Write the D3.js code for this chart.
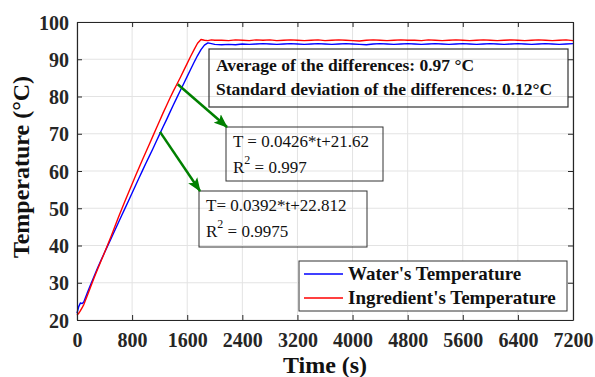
<!DOCTYPE html>
<html>
<head>
<meta charset="utf-8">
<script src="https://cdn.jsdelivr.net/npm/d3@7"></script>
<style>
  body { margin: 0; background: #fff; }
  svg { display: block; }
  text { font-family: "Liberation Serif", "Times New Roman", serif; }
</style>
</head>
<body>
<svg id="chart" width="595" height="377"></svg>
<script>
// Sampling times (s)
const timeS = [
  0, 25, 50, 75,
  100, 150, 200, 250, 300, 350, 400, 450, 500, 550,
  600, 650, 700, 750, 800, 850, 900, 950, 1000, 1050,
  1100, 1150, 1200, 1250, 1300, 1350, 1400, 1450, 1500, 1550,
  1600, 1650, 1700, 1750, 1800, 1850, 1900, 1950, 2000,
  2100, 2200, 2300, 2400, 2500, 2600, 2700, 2800, 2900, 3000,
  3100, 3200, 3300, 3400, 3500, 3600, 3700, 3800, 3900, 4000,
  4100, 4200, 4300, 4400, 4500, 4600, 4700, 4800, 4900, 5000,
  5100, 5200, 5300, 5400, 5500, 5600, 5700, 5800, 5900, 6000,
  6100, 6200, 6300, 6400, 6500, 6600, 6700, 6800, 6900, 7000,
  7100, 7200
];

// Water temperature (°C)
const waterTemp = [
  21.8, 23.6, 24.6, 24.4,
  24.9, 27.3, 29.6, 31.8, 34.0, 36.1, 38.1, 40.1, 42.1, 44.1,
  46.1, 48.1, 50.1, 52.1, 54.1, 56.1, 58.1, 60.1, 62.1, 64.0,
  65.9, 67.9, 69.9, 71.9, 73.8, 75.8, 77.8, 79.7, 81.6, 83.5,
  85.4, 87.3, 89.2, 91.0, 92.6, 93.8, 94.4, 94.2, 94.0,
  93.9, 94.0, 93.9, 94.1, 94.0, 94.1, 94.2, 94.1, 94.0, 94.1,
  94.2, 94.1, 94.0, 94.1, 94.2, 94.1, 94.0, 94.1, 94.2, 94.1,
  94.0, 93.9, 94.1, 94.2, 94.1, 94.0, 94.1, 94.2, 94.1, 94.0,
  94.1, 94.2, 94.1, 94.0, 94.1, 94.2, 94.1, 94.0, 94.1, 94.2,
  94.1, 94.0, 94.1, 94.2, 94.1, 94.0, 94.1, 94.2, 94.1, 94.0,
  94.1, 94.2
];

// Ingredient temperature (°C)
const ingredientTemp = [
  21.3, 21.8, 22.5, 23.3,
  24.2, 26.6, 29.0, 31.4, 33.7, 35.9, 38.1, 40.4, 42.7, 45.1,
  47.5, 49.8, 52.1, 54.3, 56.5, 58.7, 60.9, 63.0, 65.1, 67.2,
  69.3, 71.4, 73.5, 75.6, 77.6, 79.6, 81.5, 83.3, 85.1, 87.0,
  88.9, 90.8, 92.6, 94.3, 95.3, 95.1, 95.0, 95.2, 95.1,
  95.1, 95.0, 95.2, 95.1, 95.0, 95.2, 95.1, 95.2, 95.0, 95.1,
  95.2, 95.1, 95.0, 95.1, 95.2, 95.0, 95.1, 95.2, 95.1, 95.0,
  94.9, 95.1, 95.2, 95.1, 95.0, 95.1, 95.2, 95.1, 95.1, 95.0,
  95.2, 95.1, 95.0, 95.1, 95.2, 95.1, 95.0, 95.1, 95.2, 95.1,
  95.0, 95.1, 95.2, 95.1, 95.0, 95.1, 95.2, 95.1, 95.0, 95.1,
  95.2, 95.0
];

const xTicks = [0, 800, 1600, 2400, 3200, 4000, 4800, 5600, 6400, 7200];
const yTicks = [20, 30, 40, 50, 60, 70, 80, 90, 100];
const seriesNames = ["Water's Temperature", "Ingredient's Temperature"];
const seriesColors = ["#0000ff", "#ff0000"];

const statLines = ["Average of the differences: 0.97 °C", "Standard deviation of the differences: 0.12°C"];
const ingredientFit = { eq: "T = 0.0426*t+21.62", r2: " = 0.997", from: [1462, 83.3] };
const waterFit = { eq: "T= 0.0392*t+22.812", r2: " = 0.9975", from: [1205, 70.5] };

const W = 595, H = 377;
const margin = { top: 22, right: 22, bottom: 57, left: 77 };
const iw = W - margin.left - margin.right;
const ih = H - margin.top - margin.bottom;

const svg = d3.select("#chart");
const g = svg.append("g").attr("transform", `translate(${margin.left},${margin.top})`);

const x = d3.scaleLinear().domain([0, 7200]).range([0, iw]);
const y = d3.scaleLinear().domain([20, 100]).range([ih, 0]);

const axisColor = "#262626";
const gridColor = "#e3e3e3";

// grid
g.append("g").selectAll("line").data(xTicks).join("line")
  .attr("x1", d => x(d)).attr("x2", d => x(d)).attr("y1", 0).attr("y2", ih)
  .attr("stroke", gridColor).attr("stroke-width", 1);
g.append("g").selectAll("line").data(yTicks).join("line")
  .attr("x1", 0).attr("x2", iw).attr("y1", d => y(d)).attr("y2", d => y(d))
  .attr("stroke", gridColor).attr("stroke-width", 1);

// series
const line = d3.line().x(d => x(d[0])).y(d => y(d[1]));
[waterTemp, ingredientTemp].forEach((vals, i) => {
  g.append("path")
    .datum(timeS.map((t, k) => [t, vals[k]]))
    .attr("d", line)
    .attr("fill", "none")
    .attr("stroke", seriesColors[i])
    .attr("stroke-width", 1.4)
    .attr("stroke-linejoin", "round");
});

// axes (ticks inward on all four sides)
const tickFont = "bold 20px 'Liberation Serif'";
const xAxis = g.append("g").attr("transform", `translate(0,${ih})`)
  .call(d3.axisBottom(x).tickValues(xTicks).tickFormat(d3.format("d"))
    .tickSizeInner(-5).tickSizeOuter(0).tickPadding(12));
const xAxisTop = g.append("g")
  .call(d3.axisTop(x).tickValues(xTicks).tickSizeInner(-5).tickSizeOuter(0).tickFormat(""));
const yAxis = g.append("g")
  .call(d3.axisLeft(y).tickValues(yTicks).tickFormat(d3.format("d"))
    .tickSizeInner(-5).tickSizeOuter(0).tickPadding(10));
const yAxisRight = g.append("g").attr("transform", `translate(${iw},0)`)
  .call(d3.axisRight(y).tickValues(yTicks).tickSizeInner(-5).tickSizeOuter(0).tickFormat(""));

[xAxis, xAxisTop, yAxis, yAxisRight].forEach(a => {
  a.select(".domain").attr("stroke", axisColor).attr("stroke-width", 1.2);
  a.selectAll(".tick line").attr("stroke", axisColor).attr("stroke-width", 1);
  a.selectAll(".tick text").style("font", tickFont).attr("fill", axisColor);
});
xAxis.selectAll(".tick text").attr("dy", "0.71em").attr("y", 13);
yAxis.selectAll(".tick text").attr("dy", "0.36em").attr("x", -8);

// axis titles
svg.append("text")
  .attr("x", margin.left + iw / 2).attr("y", 373)
  .attr("text-anchor", "middle")
  .style("font", "bold 24px 'Liberation Serif'").attr("fill", "#111")
  .text("Time (s)");
svg.append("text")
  .attr("transform", `translate(29,${margin.top + ih / 2 - 4}) rotate(-90)`)
  .attr("text-anchor", "middle")
  .style("font", "bold 24px 'Liberation Serif'").attr("fill", "#111")
  .text("Temperature (°C)");

// arrow marker
const defs = svg.append("defs");
defs.append("marker")
  .attr("id", "arrowHead")
  .attr("markerUnits", "userSpaceOnUse")
  .attr("viewBox", "0 -6 14 12")
  .attr("refX", 13).attr("refY", 0)
  .attr("markerWidth", 14).attr("markerHeight", 12)
  .attr("orient", "auto")
  .append("path")
  .attr("d", "M0,-5.5 L14,0 L0,5.5 L3,0 Z")
  .attr("fill", "#008000");

// statistics box
const statBox = g.append("g");
statBox.append("rect")
  .attr("x", 209 - margin.left).attr("y", 49 - margin.top)
  .attr("width", 359).attr("height", 58)
  .attr("fill", "none").attr("stroke", "#333").attr("stroke-width", 1.2);
statLines.forEach((s, i) => {
  statBox.append("text")
    .attr("x", 216 - margin.left).attr("y", 71 - margin.top + i * 24)
    .style("font", "bold 17.5px 'Liberation Serif'").attr("fill", "#111")
    .text(s);
});

// fit annotations
function fitBox(fit, bx, by, bw, bh, tx) {
  const grp = g.append("g");
  grp.append("rect")
    .attr("x", bx - margin.left).attr("y", by - margin.top)
    .attr("width", bw).attr("height", bh)
    .attr("fill", "none").attr("stroke", "#333").attr("stroke-width", 1);
  grp.append("text")
    .attr("x", tx - margin.left).attr("y", by - margin.top + 20)
    .style("font", "17px 'Liberation Serif'").attr("fill", "#111")
    .text(fit.eq);
  const t2 = grp.append("text")
    .attr("x", tx - margin.left).attr("y", by - margin.top + 46)
    .style("font", "17px 'Liberation Serif'").attr("fill", "#111");
  t2.append("tspan").text("R");
  t2.append("tspan").attr("dy", -9).style("font-size", "12px").text("2");
  t2.append("tspan").attr("dy", 9).text(fit.r2);
  // arrow from the curve to the box corner
  grp.append("line")
    .attr("x1", x(fit.from[0])).attr("y1", y(fit.from[1]))
    .attr("x2", bx - margin.left + 1).attr("y2", by - margin.top)
    .attr("stroke", "#008000").attr("stroke-width", 2.5)
    .attr("marker-end", "url(#arrowHead)");
}
fitBox(ingredientFit, 226, 127, 157, 54, 233);
fitBox(waterFit, 199, 191, 168, 56, 206);

// legend
const lg = g.append("g");
lg.append("rect")
  .attr("x", 299 - margin.left).attr("y", 261 - margin.top)
  .attr("width", 268).attr("height", 50)
  .attr("fill", "#fff").attr("stroke", "#333").attr("stroke-width", 1);
seriesNames.forEach((name, i) => {
  const cy = 274 - margin.top + i * 24;
  lg.append("line")
    .attr("x1", 304 - margin.left).attr("x2", 343 - margin.left)
    .attr("y1", cy).attr("y2", cy)
    .attr("stroke", seriesColors[i]).attr("stroke-width", 1.4);
  lg.append("text")
    .attr("x", 348 - margin.left).attr("y", cy).attr("dy", "0.33em")
    .style("font", "bold 19px 'Liberation Serif'").attr("fill", "#111")
    .text(name);
});
</script>
</body>
</html>
